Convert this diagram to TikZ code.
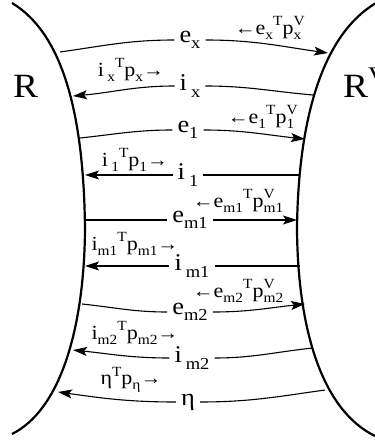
\documentclass[tikz,border=0pt]{standalone}
\usepackage{fontspec}
\setmainfont[FakeStretch=1.1]{Liberation Serif}
\usepackage{tikz}
\usetikzlibrary{arrows.meta}

\makeatletter
\newlength\scrsz
\newcommand{\lo}[1]{\scrsz=\f@size pt\scrsz=0.7\scrsz
  \raisebox{-0.27em}{\fontsize{\scrsz}{\scrsz}\selectfont #1}}
\newcommand{\hi}[1]{\scrsz=\f@size pt\scrsz=0.7\scrsz
  \raisebox{0.42em}{\fontsize{\scrsz}{\scrsz}\selectfont #1}}
\makeatother
\newcommand{\lohi}[2]{\rlap{\hi{#2}}\lo{#1}}
\newcommand{\la}{{\fontsize{19}{19}\selectfont ←}}
\newcommand{\ra}{{\fontsize{19}{19}\selectfont →}}

\begin{document}
\begin{tikzpicture}[x=1pt, y=1pt,
    wall/.style={line width=2.2pt},
    flow/.style={line width=1.1pt},
    lab/.style={font=\fontsize{24}{26}\selectfont, inner sep=5pt},
    note/.style={font=\fontsize{20}{22}\selectfont, inner sep=0pt},
    side/.style={font=\fontsize{34}{36}\selectfont, inner sep=0pt},
    >={Stealth[length=14pt,width=9pt,inset=3pt]}
]
\useasboundingbox (0,0) rectangle (375,440);

% walls
\draw[wall] (12,437) .. controls (65,405) and (84,320) .. (85,210)
    .. controls (84,110) and (60,30) .. (12,6);
\draw[wall] (376,437) .. controls (322,405) and (298,320) .. (297,210)
    .. controls (298,110) and (322,30) .. (375,4);
\node[side, anchor=base west] (R) at (13,342) {R};
\node[side, anchor=base west] (Rv) at (343,342) {R\hi{V}};

% flow labels
\node[lab] (ex)  at (190,400) {e\lo{x}};
\node[lab] (ix)  at (190,354) {i\,\lo{x}};
\node[lab] (e1)  at (188,310) {e\lo{1}};
\node[lab] (i1)  at (188,265) {i\,\lo{1}};
\node[lab] (em1) at (190,220) {e\lo{m1}};
\node[lab] (im1) at (192,174) {i\,\lo{m1}};
\node[lab] (em2) at (190,128) {e\lo{m2}};
\node[lab] (im2) at (192,82)  {i\,\lo{m2}};
\node[lab] (eta) at (188,38)  {η};

% ends on the walls
\coordinate (exL) at (60,388);  \coordinate (exR) at (328,387);
\coordinate (ixL) at (73,344);  \coordinate (ixR) at (313,345);
\coordinate (e1L) at (80,302);  \coordinate (e1R) at (305,301);
\coordinate (i1L) at (85,265);  \coordinate (i1R) at (300,265);
\coordinate (em1L) at (85,220); \coordinate (em1R) at (297,220);
\coordinate (im1L) at (85,174); \coordinate (im1R) at (300,174);
\coordinate (em2L) at (82,136); \coordinate (em2R) at (305,136);
\coordinate (im2L) at (73,90);  \coordinate (im2R) at (313,92);
\coordinate (etaL) at (58,48);  \coordinate (etaR) at (325,50);

% connectors
\draw[flow] (exL) to[out=8, in=180] (ex.west);
\draw[flow,->] (ex.east) to[out=0, in=172] (exR);
\draw[flow] (ixR) to[out=175, in=0] (ix.east);
\draw[flow,->] (ix.west) to[out=180, in=5] (ixL);
\draw[flow] (e1L) to[out=6, in=180] (e1.west);
\draw[flow,->] (e1.east) to[out=0, in=174] (e1R);
\draw[flow] (i1R) -- (i1.east);
\draw[flow,->] (i1.west) -- (i1L);
\draw[flow] (em1L) -- (em1.west);
\draw[flow,->] (em1.east) -- (em1R);
\draw[flow] (im1R) -- (im1.east);
\draw[flow,->] (im1.west) -- (im1L);
\draw[flow] (em2L) to[out=-6, in=180] (em2.west);
\draw[flow,->] (em2.east) to[out=0, in=-174] (em2R);
\draw[flow] (im2R) to[out=-174, in=0] (im2.east);
\draw[flow,->] (im2.west) to[out=180, in=-6] (im2L);
\draw[flow] (etaR) to[out=-172, in=0] (eta.east);
\draw[flow,->] (eta.west) to[out=180, in=-8] (etaL);

% power terms
\node[note] (pex)  at (268,412) {\la e\lo{x}\hi{T}p\lohi{x}{V}};
\node[note] (pix)  at (131,370) {i\,\lo{x}\hi{T}p\lo{x}\ra};
\node[note] (pe1)  at (261,323) {\la e\lo{1}\hi{T}p\lohi{1}{V}};
\node[note] (pi1)  at (135,280) {i\,\lo{1}\hi{T}p\lo{1}\ra};
\node[note] (pem1) at (238,239) {\la e\lo{m1}\hi{T}p\lohi{m1}{V}};
\node[note] (pim1) at (135,196) {i\lo{m1}\hi{T}p\lo{m1}\ra};
\node[note] (pem2) at (238,149) {\la e\lo{m2}\hi{T}p\lohi{m2}{V}};
\node[note] (pim2) at (135,107) {i\lo{m2}\hi{T}p\lo{m2}\ra};
\node[note] (peta) at (131,60)  {η\hi{T}p\lo{η}\ra};

\end{tikzpicture}
\end{document}
